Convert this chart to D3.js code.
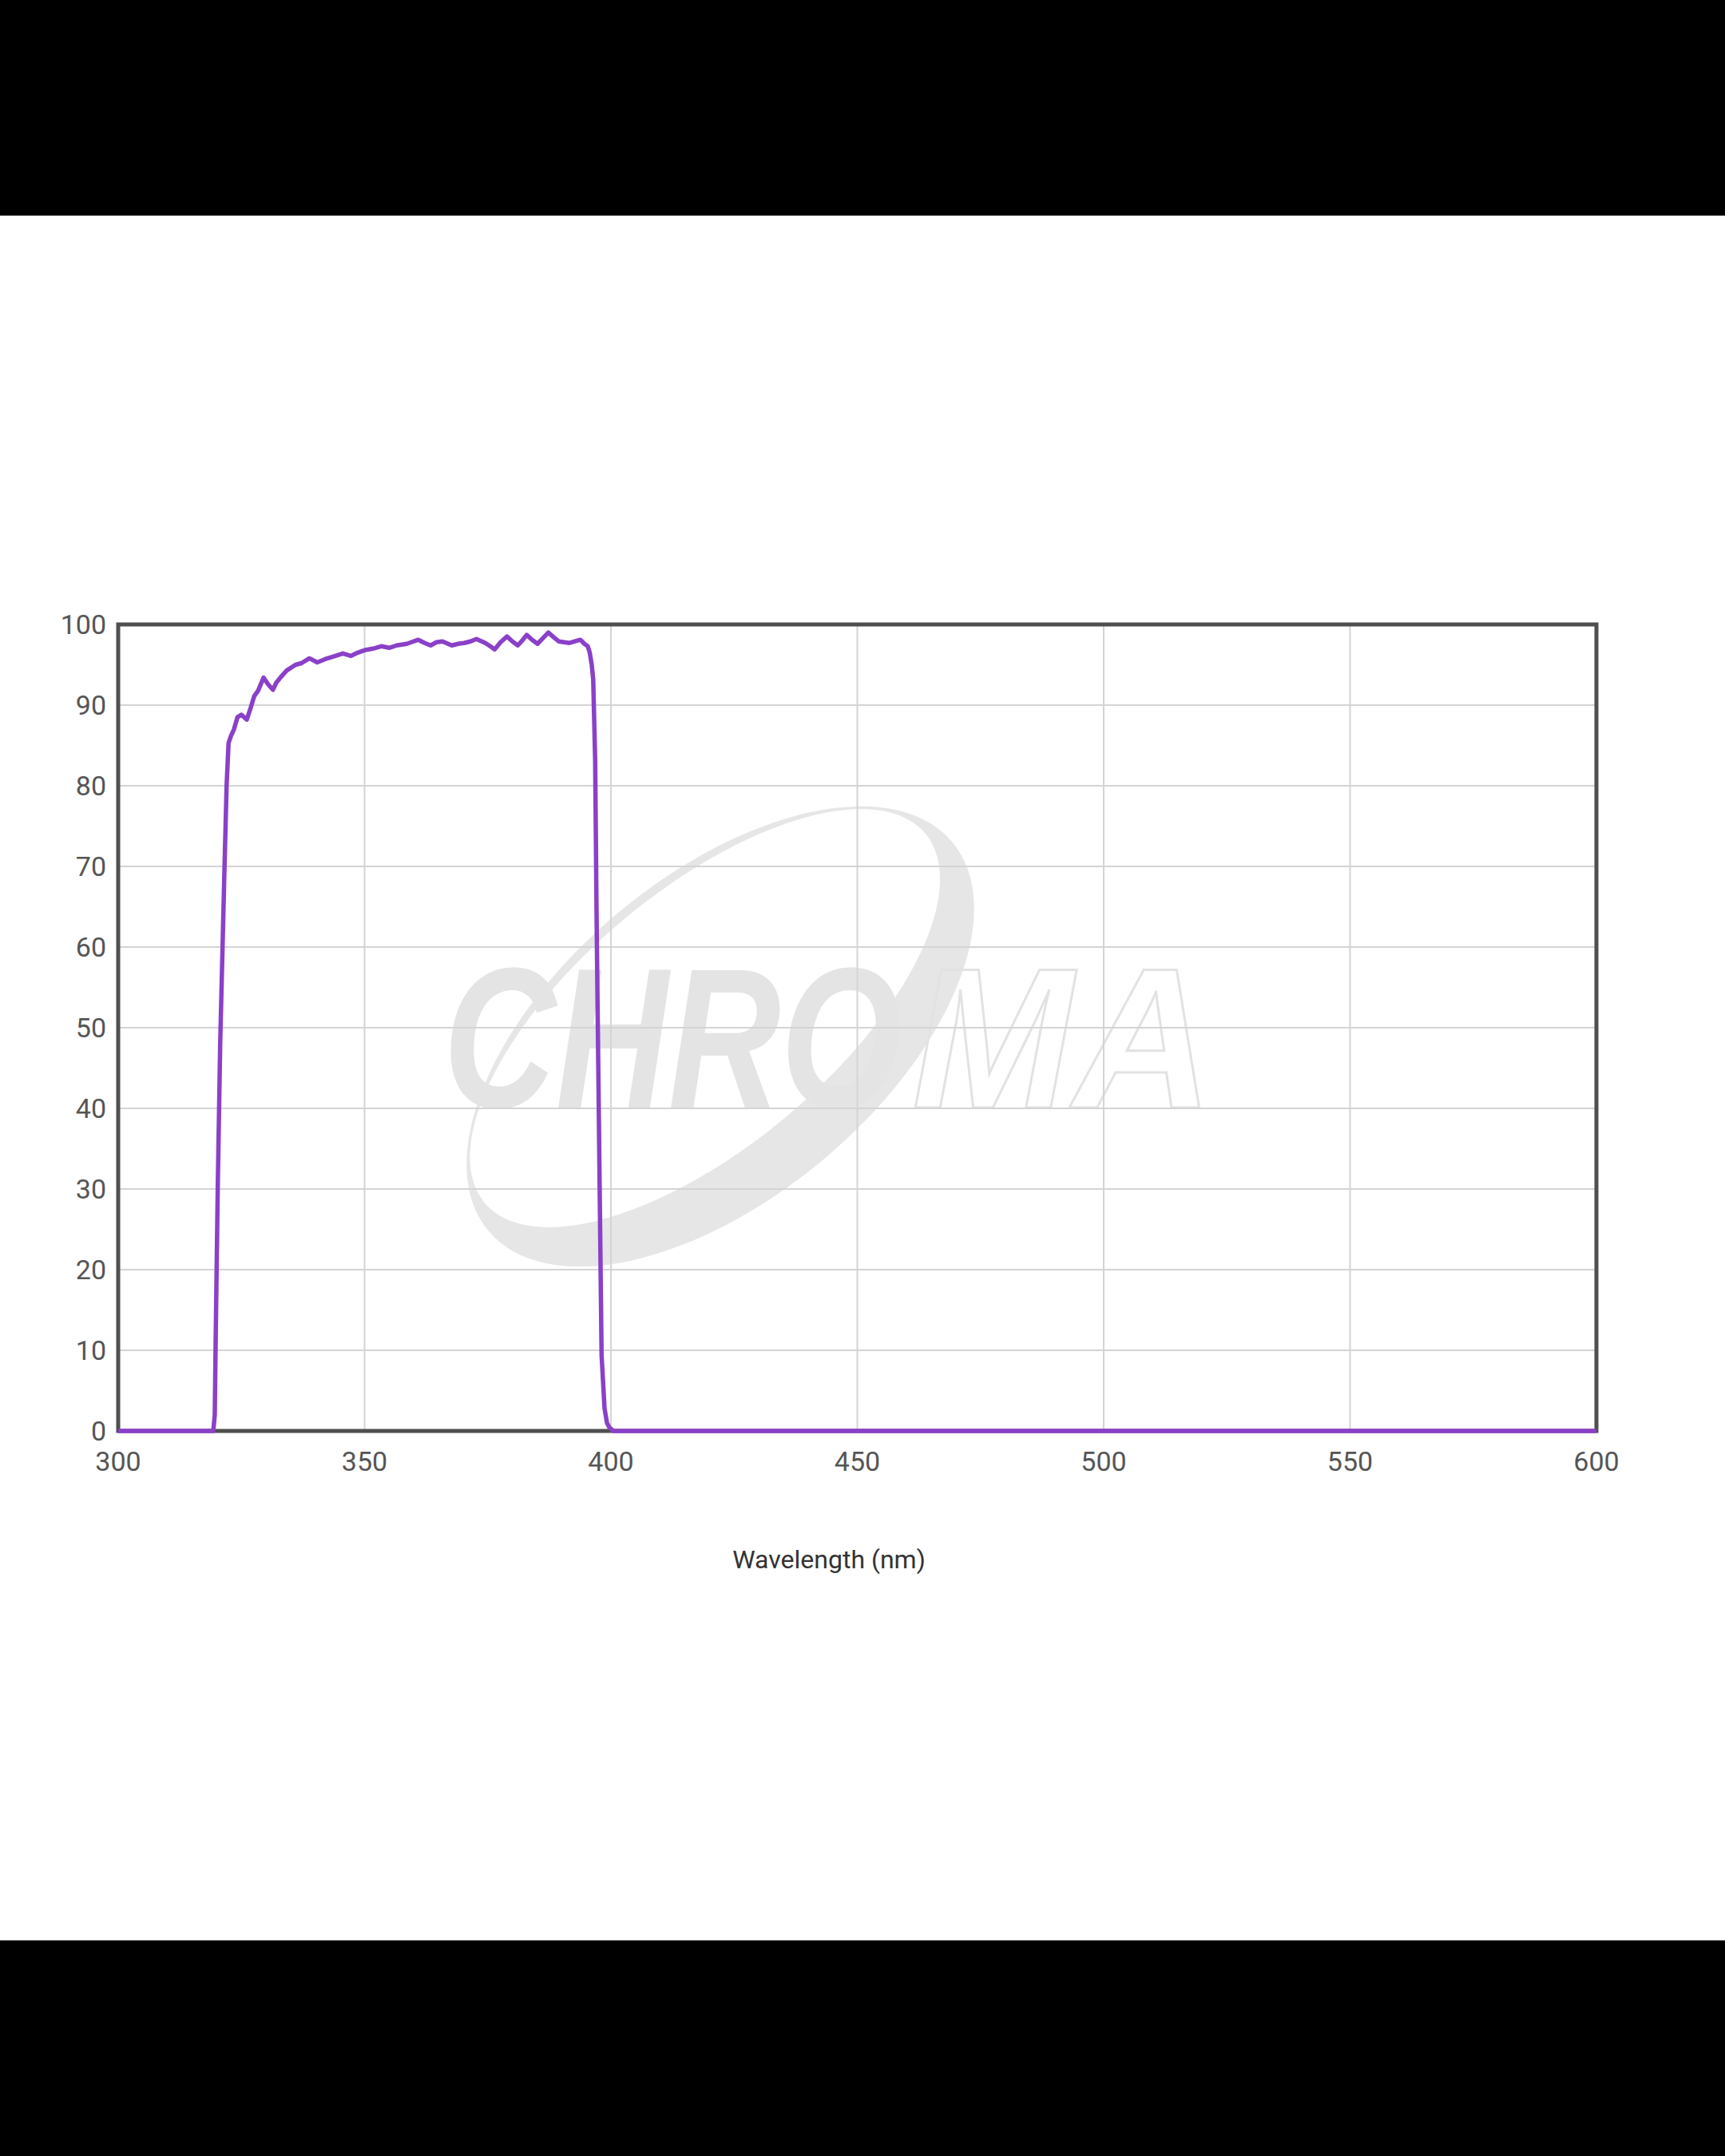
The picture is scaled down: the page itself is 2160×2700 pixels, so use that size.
<!DOCTYPE html>
<html lang="en">
<head>
    <meta charset="UTF-8">
    <title>Transmission spectrum</title>
    <script src="https://d3js.org/d3.v7.min.js"></script>
    <style>
        body { margin: 0; background: #fff; }
        .tick-label { font-family: Roboto, "Liberation Sans", sans-serif; font-size: 34px; fill: #555; }
        .axis-title { font-family: Roboto, "Liberation Sans", sans-serif; font-size: 32px; fill: #333; }
        .logo { font-family: "Liberation Sans", Arial, sans-serif; font-weight: bold; font-style: italic; font-size: 250px; }
    </style>
</head>
<body>
<svg id="chart"></svg>
<script>
    // Axis ticks
    var xTicks = [300, 350, 400, 450, 500, 550, 600];
    var yTicks = [0, 10, 20, 30, 40, 50, 60, 70, 80, 90, 100];

    // Wavelength (nm) and transmission (%)
    var wavelength = [
        300, 319.3, 319.6, 319.8, 320.2, 320.7, 321.5, 322.0, 322.4, 322.9,
        323.5, 324.2, 325.0, 326.1, 326.8, 327.6, 328.4, 329.5, 330.4, 331.4,
        332.1, 332.9, 334.2, 336.0, 337.2, 338.8, 340.4, 342.0, 344.1, 345.6,
        347.2, 348.6, 350.0, 351.7, 353.4, 355.0, 356.5, 358.6, 360.9, 362.2,
        363.4, 364.6, 365.8, 367.7, 369.0, 370.2, 371.5, 372.7, 374.5, 375.5,
        376.4, 377.6, 378.9, 380.0, 381.1, 382.0, 382.9, 384.0, 385.1, 386.2,
        387.3, 388.4, 389.4, 390.5, 391.6, 392.7, 393.8, 394.6, 395.3, 395.7,
        396.1, 396.4, 396.8, 397.1, 397.6, 398.1, 398.7, 399.2, 399.7, 400.5,
        600
    ];
    var transmission = [
        0, 0, 2, 12, 30, 48, 68, 80, 85.3, 86.2,
        87.0, 88.5, 88.8, 88.2, 89.5, 91.1, 91.8, 93.4, 92.6, 91.9,
        92.8, 93.4, 94.3, 95.0, 95.2, 95.8, 95.3, 95.7, 96.1, 96.4,
        96.1, 96.5, 96.8, 97.0, 97.3, 97.1, 97.4, 97.6, 98.1, 97.7,
        97.4, 97.8, 97.9, 97.4, 97.6, 97.7, 97.9, 98.2, 97.7, 97.3,
        96.9, 97.8, 98.5, 97.9, 97.4, 98.0, 98.7, 98.1, 97.6, 98.3,
        99.0, 98.4, 97.9, 97.8, 97.7, 97.9, 98.1, 97.6, 97.3, 96.5,
        95.0, 93.2, 83.1, 63.0, 36.2, 9.4, 2.8, 1.0, 0.4, 0,
        0
    ];

    var W = 2160, H = 2700;
    var plot = { left: 148, right: 1999, top: 782, bottom: 1792 };

    var svg = d3.select("#chart")
        .attr("width", W)
        .attr("height", H);

    // black bands above and below the image
    svg.append("rect").attr("x", 0).attr("y", 0).attr("width", W).attr("height", 270).attr("fill", "#000");
    svg.append("rect").attr("x", 0).attr("y", 2430).attr("width", W).attr("height", 270).attr("fill", "#000");

    var x = d3.scaleLinear().domain([300, 600]).range([plot.left, plot.right]);
    var y = d3.scaleLinear().domain([0, 100]).range([plot.bottom, plot.top]);

    // watermark logo (swoosh ring + lettering)
    var wm = svg.append("g").attr("class", "watermark");
    var ringPath = "M379,0 A379,201 0 1,0 -379,0 A379,201 0 1,0 379,0 Z " +
                   "M360,-30 A360,160 0 1,1 -360,-30 A360,160 0 1,1 360,-30 Z";
    wm.append("path")
        .attr("d", ringPath)
        .attr("transform", "translate(902,1298) rotate(-40)")
        .attr("fill", "#e6e6e6")
        .attr("fill-rule", "evenodd");
    wm.append("text")
        .attr("class", "logo")
        .attr("transform", "translate(555,1387) scale(0.78,1)")
        .attr("fill", "#e4e4e4")
        .text("CHRO");
    wm.append("text")
        .attr("class", "logo")
        .attr("transform", "translate(1142,1387) scale(0.97,1)")
        .attr("fill", "none")
        .attr("stroke", "#e2e2e2")
        .attr("stroke-width", 3)
        .text("MA");

    // grid
    svg.append("g").selectAll("line")
        .data(xTicks)
        .enter().append("line")
        .attr("x1", d => x(d)).attr("x2", d => x(d))
        .attr("y1", plot.top).attr("y2", plot.bottom)
        .attr("stroke", "#d4d4d4").attr("stroke-width", 2);
    svg.append("g").selectAll("line")
        .data(yTicks)
        .enter().append("line")
        .attr("x1", plot.left).attr("x2", plot.right)
        .attr("y1", d => y(d)).attr("y2", d => y(d))
        .attr("stroke", "#d4d4d4").attr("stroke-width", 2);

    // frame
    svg.append("rect")
        .attr("x", plot.left).attr("y", plot.top)
        .attr("width", plot.right - plot.left)
        .attr("height", plot.bottom - plot.top)
        .attr("fill", "none")
        .attr("stroke", "#4f4f4f")
        .attr("stroke-width", 5);

    // tick labels
    svg.append("g").selectAll("text")
        .data(yTicks)
        .enter().append("text")
        .attr("class", "tick-label")
        .attr("x", 133)
        .attr("y", d => y(d))
        .attr("dy", "0.36em")
        .attr("text-anchor", "end")
        .text(d => d);
    svg.append("g").selectAll("text")
        .data(xTicks)
        .enter().append("text")
        .attr("class", "tick-label")
        .attr("x", d => x(d))
        .attr("y", 1842)
        .attr("text-anchor", "middle")
        .text(d => d);

    svg.append("text")
        .attr("class", "axis-title")
        .attr("x", 1038)
        .attr("y", 1964)
        .attr("text-anchor", "middle")
        .text("Wavelength (nm)");

    // spectrum line
    var points = wavelength.map((w, i) => [w, transmission[i]]);
    var line = d3.line()
        .x(d => x(d[0]))
        .y(d => y(d[1]));
    svg.append("path")
        .datum(points)
        .attr("d", line)
        .attr("fill", "none")
        .attr("stroke", "#8a40c8")
        .attr("stroke-width", 5.5)
        .attr("stroke-linejoin", "round");
</script>
</body>
</html>
